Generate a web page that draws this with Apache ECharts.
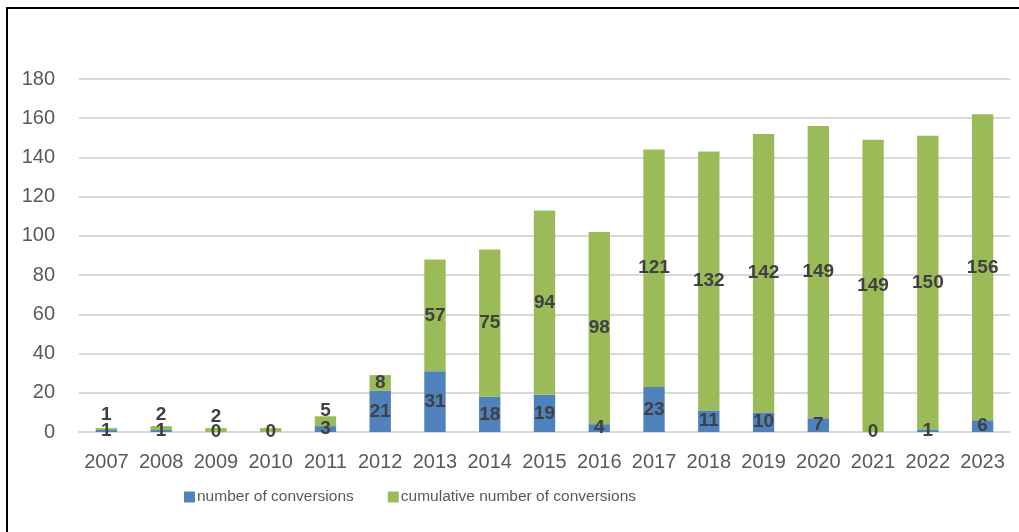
<!DOCTYPE html>
<html>
<head>
<meta charset="utf-8">
<script src="https://cdn.jsdelivr.net/npm/echarts@6/dist/echarts.min.js"></script>
<style>
html,body{margin:0;padding:0;background:#fff;}
#chart{width:1019px;height:532px;}
</style>
</head>
<body>
<div id="chart"></div>
<script>
var categories = ['2007','2008','2009','2010','2011','2012','2013','2014','2015','2016','2017','2018','2019','2020','2021','2022','2023'];
var conversions = [1,1,0,0,3,21,31,18,19,4,23,11,10,7,0,1,6];
var cumulative = [1,2,2,2,5,8,57,75,94,98,121,132,142,149,149,150,156];
var yTicks = [0,20,40,60,80,100,120,140,160,180];
var hiddenCumulativeLabels = ['2010'];

var FONT = 'Liberation Sans';
var labelStyle = {show:true, position:'inside', color:'#404040', fontWeight:'bold', fontSize:19, fontFamily:FONT};

var greenData = cumulative.map(function(v,i){
  var item = {value:v};
  if (hiddenCumulativeLabels.indexOf(categories[i]) >= 0) {
    item.label = {show:false};
  } else if (v + conversions[i] < 10) {
    item.label = {position:'insideBottom', distance:6, offset:[0,0]};
  }
  return item;
});

var chart = echarts.init(document.getElementById('chart'), null, {renderer:'canvas'});
chart.setOption({
  animation:false,
  backgroundColor:'#fff',
  graphic:[{type:'rect', shape:{x:7, y:8, width:1200, height:800}, style:{fill:'none', stroke:'#000', lineWidth:2}, z:100}],
  grid:{left:79, right:9, top:79, bottom:100, containLabel:false},
  legend:{
    left:179, top:484, itemWidth:11, itemHeight:11, itemGap:34,
    icon:'rect',
    textStyle:{color:'#595959', fontSize:15.5, fontFamily:FONT, padding:[0,0,0,-3]},
    data:['number of conversions','cumulative number of conversions']
  },
  xAxis:{
    type:'category', data:categories,
    axisLine:{lineStyle:{color:'#D9D9D9', width:2}},
    axisTick:{show:false},
    axisLabel:{color:'#595959', fontSize:20, fontFamily:FONT, margin:20, interval:0}
  },
  yAxis:{
    type:'value', min:yTicks[0], max:yTicks[yTicks.length-1], interval:yTicks[1]-yTicks[0],
    axisLine:{show:false}, axisTick:{show:false},
    splitLine:{lineStyle:{color:'#D9D9D9', width:2}},
    axisLabel:{color:'#595959', fontSize:20, fontFamily:FONT, margin:24}
  },
  series:[
    {name:'number of conversions', type:'bar', stack:'a', data:conversions, barWidth:'39%',
     itemStyle:{color:'#4F81BD'}, label:labelStyle},
    {name:'cumulative number of conversions', type:'bar', stack:'a', data:greenData, barWidth:'39%',
     itemStyle:{color:'#9BBB59'}, label:labelStyle}
  ]
});
</script>
</body>
</html>
